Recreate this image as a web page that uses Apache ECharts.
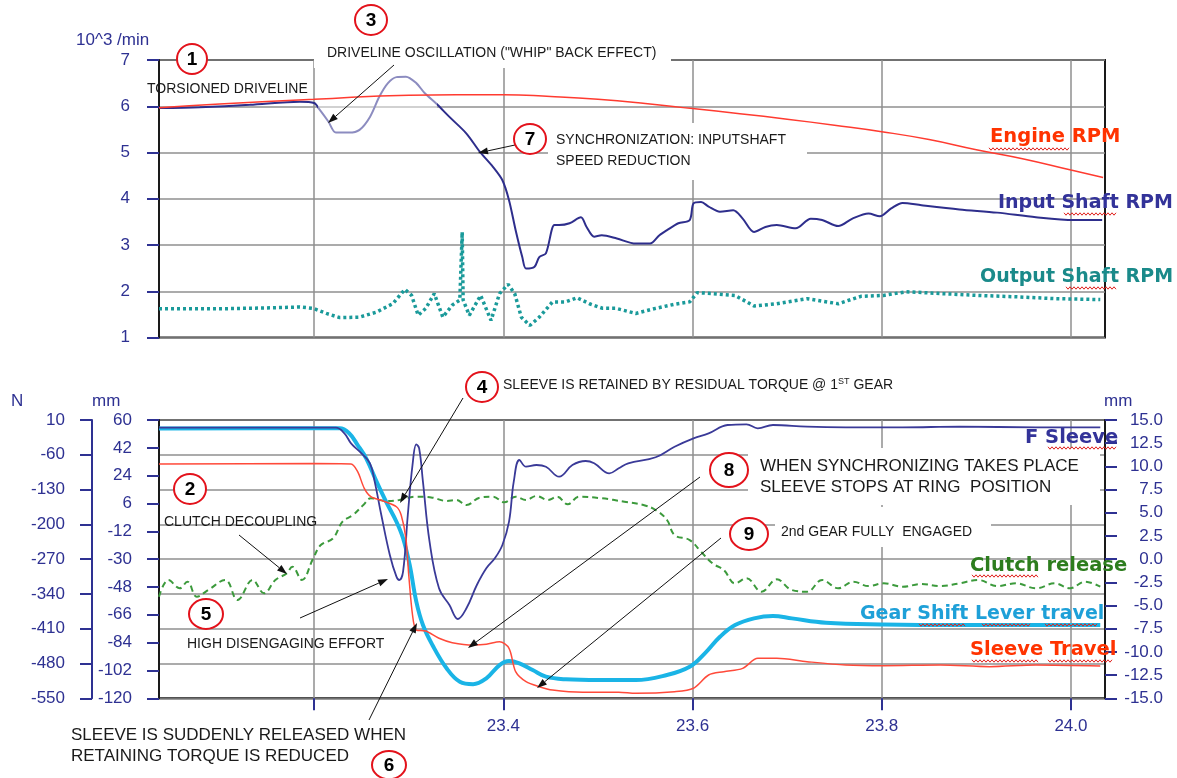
<!DOCTYPE html>
<html>

<head>
    <meta charset="UTF-8">
    <script src="https://cdn.jsdelivr.net/npm/echarts@6/dist/echarts.min.js"></script>
    <style>
        html, body { margin: 0; padding: 0; background: #fff; }
        #main { width: 1177px; height: 778px; }
    </style>
</head>

<body>
    <div id="main"></div>
    <script>
        // ---- data (time in s) ----
        // upper plot, 10^3 /min
        var engineT = [23.036, 23.1, 23.2, 23.3, 23.4, 23.45, 23.5, 23.55, 23.6, 23.65, 23.7, 23.75, 23.8, 23.85, 23.9, 23.95, 24.0, 24.034];
        var engineRpm = [5.97, 6.05, 6.15, 6.24, 6.25, 6.21, 6.15, 6.06, 5.95, 5.84, 5.72, 5.59, 5.45, 5.28, 5.06, 4.86, 4.62, 4.46];

        var inputT = [23.036, 23.079, 23.132, 23.185, 23.200, 23.206, 23.215, 23.223, 23.237, 23.248, 23.259, 23.269, 23.278, 23.287, 23.297, 23.308, 23.317, 23.329, 23.343, 23.361, 23.375, 23.389, 23.399, 23.406, 23.413, 23.420, 23.424, 23.433, 23.438, 23.445, 23.454, 23.459, 23.470, 23.482, 23.488, 23.496, 23.504, 23.520, 23.540, 23.555, 23.565, 23.573, 23.585, 23.597, 23.601, 23.609, 23.617, 23.629, 23.643, 23.653, 23.665, 23.677, 23.689, 23.709, 23.725, 23.737, 23.754, 23.769, 23.786, 23.798, 23.810, 23.822, 23.842, 23.882, 23.922, 23.963, 24.003, 24.033];
        var inputRpm = [5.96, 5.98, 6.03, 6.10, 6.07, 5.92, 5.67, 5.43, 5.43, 5.49, 5.77, 6.21, 6.50, 6.63, 6.64, 6.50, 6.28, 6.06, 5.77, 5.41, 5.02, 4.69, 4.40, 3.97, 3.32, 2.74, 2.49, 2.53, 2.74, 2.82, 3.43, 3.43, 3.47, 3.60, 3.39, 3.18, 3.21, 3.14, 3.03, 3.03, 3.21, 3.32, 3.47, 3.54, 3.90, 3.93, 3.83, 3.72, 3.75, 3.57, 3.28, 3.39, 3.43, 3.36, 3.57, 3.54, 3.41, 3.57, 3.68, 3.62, 3.79, 3.91, 3.86, 3.77, 3.70, 3.60, 3.54, 3.54];

        var outputT = [23.036, 23.1, 23.15, 23.185, 23.199, 23.213, 23.227, 23.248, 23.266, 23.283, 23.296, 23.303, 23.310, 23.318, 23.327, 23.336, 23.346, 23.354, 23.3555, 23.3565, 23.3575, 23.364, 23.376, 23.387, 23.396, 23.405, 23.412, 23.419, 23.428, 23.438, 23.452, 23.466, 23.478, 23.491, 23.505, 23.519, 23.540, 23.561, 23.581, 23.597, 23.605, 23.621, 23.645, 23.665, 23.689, 23.721, 23.754, 23.778, 23.802, 23.826, 23.862, 23.902, 23.942, 23.983, 24.031];
        var outputRpm = [1.62, 1.62, 1.64, 1.66, 1.63, 1.52, 1.43, 1.44, 1.55, 1.73, 2.04, 1.91, 1.48, 1.63, 1.95, 1.44, 1.70, 1.81, 1.81, 3.28, 1.81, 1.48, 1.91, 1.37, 1.95, 2.15, 1.95, 1.44, 1.26, 1.44, 1.77, 1.77, 1.86, 1.73, 1.63, 1.63, 1.52, 1.63, 1.72, 1.77, 1.97, 1.95, 1.91, 1.68, 1.73, 1.84, 1.73, 1.89, 1.91, 1.99, 1.95, 1.91, 1.88, 1.84, 1.82];

        // lower plot
        var forceT = [23.036, 23.2, 23.223, 23.232, 23.239, 23.250, 23.259, 23.264, 23.271, 23.280, 23.287, 23.290, 23.294, 23.299, 23.304, 23.308, 23.311, 23.315, 23.322, 23.332, 23.343, 23.352, 23.361, 23.372, 23.382, 23.391, 23.399, 23.406, 23.411, 23.417, 23.424, 23.435, 23.445, 23.459, 23.473, 23.487, 23.496, 23.512, 23.522, 23.532, 23.561, 23.581, 23.601, 23.617, 23.637, 23.657, 23.669, 23.685, 23.721, 23.762, 23.822, 23.882, 23.963, 24.031];
        var forceN = [-5.5, -5.5, -5.5, -16.8, -36.9, -57.0, -77.1, -114.1, -181.2, -261.6, -305.3, -312.0, -295.2, -181.2, -80.5, -38.9, -47.0, -114.1, -234.9, -328.6, -362.3, -390.4, -368.9, -322.0, -288.4, -268.3, -241.5, -194.6, -114.1, -70.5, -84.0, -80.6, -84.0, -104.1, -80.6, -72.5, -77.1, -97.3, -87.2, -77.1, -65.0, -43.7, -26.8, -16.8, -0.1, 1.3, -6.7, -0.1, -3.5, -4.7, -4.7, -3.5, -4.7, -4.7];

        var clutchT = [23.036, 23.046, 23.058, 23.066, 23.076, 23.088, 23.106, 23.119, 23.135, 23.147, 23.159, 23.171, 23.177, 23.187, 23.199, 23.207, 23.220, 23.230, 23.241, 23.252, 23.260, 23.276, 23.290, 23.308, 23.325, 23.340, 23.350, 23.361, 23.375, 23.389, 23.401, 23.413, 23.424, 23.435, 23.447, 23.457, 23.468, 23.480, 23.504, 23.528, 23.548, 23.561, 23.573, 23.581, 23.597, 23.609, 23.621, 23.633, 23.645, 23.657, 23.673, 23.689, 23.705, 23.721, 23.737, 23.754, 23.770, 23.786, 23.802, 23.822, 23.842, 23.862, 23.882, 23.902, 23.922, 23.942, 23.963, 23.983, 23.999, 24.015, 24.031];
        var clutchMm = [-4.05, -2.25, -3.14, -2.43, -4.05, -3.33, -2.25, -4.40, -2.25, -3.68, -2.25, -1.53, -0.81, -2.25, 0.09, 1.52, 2.25, 4.04, 4.76, 5.84, 6.56, 6.27, 6.38, 6.73, 6.63, 6.27, 6.38, 5.84, 6.63, 6.73, 6.13, 6.73, 6.38, 6.81, 6.38, 6.73, 5.91, 6.73, 6.56, 6.19, 5.84, 5.30, 4.22, 2.60, 2.06, 0.80, -0.45, -1.17, -2.61, -2.07, -3.51, -2.18, -3.33, -3.51, -2.25, -3.14, -2.43, -2.90, -2.61, -2.97, -2.68, -2.90, -2.61, -2.25, -2.90, -2.61, -3.14, -2.61, -3.14, -2.43, -2.97];

        var leverT = [23.036, 23.2, 23.227, 23.237, 23.246, 23.255, 23.266, 23.276, 23.287, 23.294, 23.301, 23.308, 23.315, 23.325, 23.340, 23.354, 23.368, 23.382, 23.396, 23.406, 23.417, 23.431, 23.445, 23.466, 23.501, 23.540, 23.573, 23.597, 23.613, 23.629, 23.645, 23.665, 23.685, 23.705, 23.741, 23.802, 23.882, 24.031];
        var leverMm = [54.5, 54.6, 54.6, 51.4, 43.8, 35.2, 20.1, 7.2, -5.8, -16.5, -33.8, -57.5, -72.6, -85.5, -100.6, -109.3, -110.9, -107.1, -98.5, -95.9, -97.4, -101.7, -106.0, -107.7, -108.2, -108.2, -104.9, -99.6, -90.9, -80.2, -72.6, -68.3, -66.8, -68.3, -71.1, -72.2, -72.6, -72.6];

        var sleeveT = [23.036, 23.2, 23.239, 23.246, 23.253, 23.260, 23.273, 23.287, 23.292, 23.297, 23.300, 23.304, 23.308, 23.318, 23.332, 23.346, 23.368, 23.382, 23.396, 23.406, 23.413, 23.424, 23.438, 23.452, 23.484, 23.522, 23.540, 23.581, 23.601, 23.617, 23.633, 23.653, 23.669, 23.689, 23.721, 23.762, 23.802, 23.862, 23.914, 23.963, 24.031];
        var sleeveMm = [10.25, 10.3, 10.26, 9.43, 7.64, 6.73, 6.27, 5.65, 4.76, 2.25, -1.71, -6.02, -7.64, -7.75, -8.53, -9.00, -9.26, -9.18, -8.90, -9.61, -12.13, -13.21, -13.75, -14.11, -14.35, -14.35, -14.46, -14.29, -13.92, -12.49, -12.13, -11.77, -10.69, -10.69, -11.05, -11.41, -11.49, -11.41, -11.59, -11.41, -11.52];

        // axis ticks / labels
        var timeTicks = [23.2, 23.4, 23.6, 23.8, 24.0];
        var timeLabels = [23.4, 23.6, 23.8, 24.0];

        var navy = '#2e3192';
        var gridGray = '#8f8f8f';

        function pairs(xs, ys) {
            return xs.map(function (x, i) { return [x, ys[i]]; });
        }

        // ---- annotation helpers ----
        function note(x, y, text, size, extra) {
            var st = { text: text, x: 0, y: 0, font: (size || 14) + 'px "Liberation Sans", Arial', fill: '#1a1a1a', align: 'left', textAlign: 'left', verticalAlign: 'middle', textVerticalAlign: 'middle' };
            for (var k in extra) st[k] = extra[k];
            return { type: 'text', x: x, y: y, z: 60, style: st };
        }
        function label(x, y, text, color, size) {
            return { type: 'text', x: x, y: y, z: 60, style: { text: text, font: 'bold ' + (size || 19.5) + 'px "DejaVu Sans"', fill: color, align: 'left', textAlign: 'left', verticalAlign: 'middle', textVerticalAlign: 'middle' } };
        }
        function badge(x, y, n, rx, ry) {
            return [
                { type: 'ellipse', z: 70, shape: { cx: x, cy: y, rx: rx || 16, ry: ry || 15 }, style: { fill: '#fff', stroke: '#e3121b', lineWidth: 2 } },
                { type: 'text', z: 71, x: x, y: y + 1, style: { text: n, font: 'bold 19px Arial', fill: '#000', align: 'center', textAlign: 'center', verticalAlign: 'middle', textVerticalAlign: 'middle' } }
            ];
        }
        function arrow(x1, y1, x2, y2) {
            var a = Math.atan2(y2 - y1, x2 - x1), L = 10, W = 3.5;
            var bx = x2 - L * Math.cos(a), by = y2 - L * Math.sin(a);
            return [
                { type: 'line', z: 65, shape: { x1: x1, y1: y1, x2: bx, y2: by }, style: { stroke: '#111', lineWidth: 1 } },
                { type: 'polygon', z: 65, shape: { points: [[x2, y2], [bx + W * Math.sin(a), by - W * Math.cos(a)], [bx - W * Math.sin(a), by + W * Math.cos(a)]] }, style: { fill: '#111' } }
            ];
        }
        function cover(x, y, w, h) {
            return { type: 'rect', z: 50, shape: { x: x, y: y, width: w, height: h }, style: { fill: '#fff' } };
        }
        function squiggle(x1, x2, y) {
            var pts = [];
            for (var x = x1, i = 0; x <= x2; x += 2, i++) pts.push([x, y + (i % 2 ? 1.2 : -1.2)]);
            return { type: 'polyline', z: 61, shape: { points: pts }, style: { stroke: '#e0201c', lineWidth: 1, fill: null } };
        }

        var graphics = [
            cover(314, 36, 357, 32),
            cover(548, 123, 259, 57),
            cover(748, 448, 352, 57),
            cover(775, 507, 216, 40),
            { type: 'rect', z: 3, shape: { x: 318, y: 70, width: 119, height: 68 }, style: { fill: 'rgba(255,255,255,0.45)' } },

            // axis names
            note(76, 40, '10^3 /min', 17, { fill: navy }),
            note(11, 401, 'N', 17, { fill: navy }),
            note(92, 401, 'mm', 17, { fill: navy }),
            note(1104, 401, 'mm', 17, { fill: navy }),

            // notes
            note(147, 89, 'TORSIONED DRIVELINE', 14),
            note(327, 53, 'DRIVELINE OSCILLATION ("WHIP" BACK EFFECT)', 14),
            note(556, 130, 'SYNCHRONIZATION: INPUTSHAFT\nSPEED REDUCTION', 14, { verticalAlign: 'top', textVerticalAlign: 'top', lineHeight: 21 }),
            {
                type: 'text', x: 503, y: 385, z: 60, style: {
                    text: '{a|SLEEVE IS RETAINED BY RESIDUAL TORQUE @ 1}{s|ST}{a| GEAR}', verticalAlign: 'middle', textVerticalAlign: 'middle',
                    rich: { a: { font: '14px "Liberation Sans", Arial', fill: '#1a1a1a' }, s: { font: '9px "Liberation Sans", Arial', fill: '#1a1a1a', verticalAlign: 'top', padding: [0, 0, 6, 0] } }
                }
            },
            note(164, 522, 'CLUTCH DECOUPLING', 14),
            note(187, 644, 'HIGH DISENGAGING EFFORT', 14),
            note(71, 725, 'SLEEVE IS SUDDENLY RELEASED WHEN\nRETAINING TORQUE IS REDUCED', 17, { verticalAlign: 'top', textVerticalAlign: 'top', lineHeight: 21 }),
            note(760, 456, 'WHEN SYNCHRONIZING TAKES PLACE\nSLEEVE STOPS AT RING  POSITION', 17, { verticalAlign: 'top', textVerticalAlign: 'top', lineHeight: 21 }),
            note(781, 532, '2nd GEAR FULLY  ENGAGED', 14),

            // series names
            label(990, 137, 'Engine RPM', '#ff3300'),
            label(998, 203, 'Input Shaft RPM', '#333399', 19),
            label(980, 277, 'Output Shaft RPM', '#1a8a8a', 19),
            label(1025, 438, 'F Sleeve', '#333399'),
            label(970, 566, 'Clutch release', '#2d7d1e'),
            label(860, 614, 'Gear Shift Lever travel', '#1ea0d8', 19),
            label(970, 650, 'Sleeve Travel', '#ff3300'),
            squiggle(989, 1070, 149),
            squiggle(1064, 1116, 214),
            squiggle(1066, 1116, 288),
            squiggle(1048, 1117, 448),
            squiggle(972, 1039, 576),
            squiggle(919, 965, 625),
            squiggle(982, 1031, 625),
            squiggle(1045, 1098, 625),
            squiggle(972, 1039, 661),
            squiggle(1048, 1113, 661)
        ];
        graphics = graphics
            .concat(badge(192, 59, '1', 15, 15))
            .concat(badge(371, 20, '3', 16, 15))
            .concat(badge(530, 139, '7', 16, 15))
            .concat(badge(482, 387, '4', 16, 15))
            .concat(badge(190, 489, '2', 16, 15))
            .concat(badge(206, 614, '5', 17, 15))
            .concat(badge(389, 765, '6', 17, 14))
            .concat(badge(729, 470, '8', 19, 17))
            .concat(badge(749, 534, '9', 19, 16))
            .concat(arrow(394, 65, 328, 123))
            .concat(arrow(515, 145, 478, 153))
            .concat(arrow(463, 398, 400, 503))
            .concat(arrow(239, 535, 287, 574))
            .concat(arrow(300, 618, 388, 579))
            .concat(arrow(369, 720, 417, 623))
            .concat(arrow(700, 477, 468, 648))
            .concat(arrow(721, 538, 537, 688));

        function timeAxis(gridIndex, withLabels) {
            return {
                type: 'value', gridIndex: gridIndex, min: 23.036, max: 24.036, position: 'bottom',
                axisLine: { show: false, onZero: false },
                axisTick: { show: withLabels, length: 12, customValues: timeTicks, lineStyle: { color: navy, width: 2 } },
                axisLabel: {
                    show: withLabels, customValues: timeLabels, margin: 20, color: navy, fontSize: 17, fontFamily: 'Liberation Sans',
                    formatter: function (v) { return v.toFixed(1); }
                },
                splitLine: { show: true, lineStyle: { color: gridGray, width: 1.5 } }
            };
        }

        function valAxis(opt) {
            var base = {
                type: 'value',
                axisLine: { show: true, onZero: false, lineStyle: { color: '#1a1a1a', width: 2 } },
                axisTick: { show: true, inside: false, length: 12, lineStyle: { color: navy, width: 2 } },
                axisLabel: { color: navy, fontSize: 17, fontFamily: 'Liberation Sans', margin: 27 },
                splitLine: { show: false }
            };
            for (var k in opt) base[k] = opt[k];
            return base;
        }

        var myChart = echarts.init(document.getElementById('main'));
        var option = {
            animation: false,
            backgroundColor: '#fff',
            grid: [
                { left: 159, right: 72, top: 60, height: 277.5, show: true, borderColor: '#1a1a1a', borderWidth: 2 },
                { left: 159, right: 72, top: 420, height: 278.3, show: true, borderColor: '#1a1a1a', borderWidth: 2 }
            ],
            xAxis: [timeAxis(0, false), timeAxis(1, true)],
            yAxis: [
                valAxis({
                    gridIndex: 0, min: 1, max: 7, interval: 1,
                    axisLabel: { color: navy, fontSize: 17, fontFamily: 'Liberation Sans', margin: 29 },
                    splitLine: { show: true, lineStyle: { color: gridGray, width: 1.5 } }
                }),
                valAxis({
                    gridIndex: 1, min: -550, max: 10, interval: 70, position: 'left', offset: 67,
                    axisLine: { show: true, onZero: false, lineStyle: { color: navy, width: 2 } },
                    splitLine: { show: true, lineStyle: { color: gridGray, width: 1.5 } }
                }),
                valAxis({ gridIndex: 1, min: -120, max: 60, interval: 18, position: 'left' }),
                valAxis({
                    gridIndex: 1, min: -15, max: 15, interval: 2.5, position: 'right',
                    axisLabel: { color: navy, fontSize: 17, fontFamily: 'Liberation Sans', margin: 58, align: 'right', formatter: function (v) { return v.toFixed(1); } }
                })
            ],
            series: [
                { name: 'Input Shaft RPM', type: 'line', xAxisIndex: 0, yAxisIndex: 0, data: pairs(inputT, inputRpm), showSymbol: false, smooth: 0.3, z: 2, lineStyle: { color: '#2e2e8c', width: 2 } },
                { name: 'Engine RPM', type: 'line', xAxisIndex: 0, yAxisIndex: 0, data: pairs(engineT, engineRpm), showSymbol: false, smooth: 0.5, z: 4, lineStyle: { color: '#ff3b30', width: 1.5 } },
                { name: 'Output Shaft RPM', type: 'line', xAxisIndex: 0, yAxisIndex: 0, data: pairs(outputT, outputRpm), showSymbol: false, z: 2, lineStyle: { color: '#1a9a9a', width: 3.5, type: [3, 3] } },
                { name: 'Clutch release', type: 'line', xAxisIndex: 1, yAxisIndex: 3, data: pairs(clutchT, clutchMm), showSymbol: false, smooth: 0.4, z: 2, lineStyle: { color: '#3c9a3c', width: 2, type: [6, 4] } },
                { name: 'Gear Shift Lever travel', type: 'line', xAxisIndex: 1, yAxisIndex: 2, data: pairs(leverT, leverMm), showSymbol: false, smooth: 0.4, z: 2, lineStyle: { color: '#1ab4e6', width: 4 } },
                { name: 'F Sleeve', type: 'line', xAxisIndex: 1, yAxisIndex: 1, data: pairs(forceT, forceN), showSymbol: false, smooth: 0.4, z: 3, lineStyle: { color: '#3a3a98', width: 1.8 } },
                { name: 'Sleeve Travel', type: 'line', xAxisIndex: 1, yAxisIndex: 3, data: pairs(sleeveT, sleeveMm), showSymbol: false, smooth: 0.3, z: 4, lineStyle: { color: '#ff4a3a', width: 1.5 } }
            ],
            graphic: { elements: graphics }
        };
        myChart.setOption(option);
    </script>
</body>

</html>
